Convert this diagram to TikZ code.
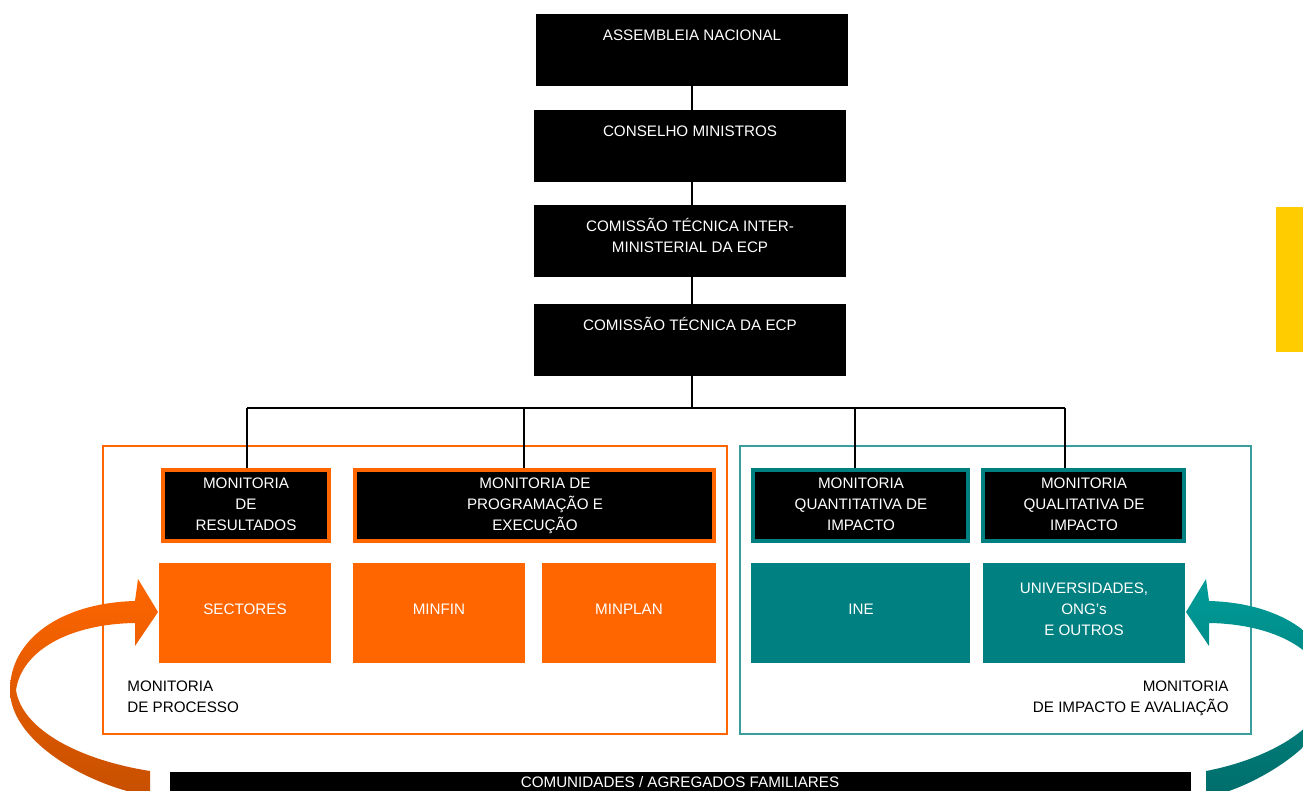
\documentclass[tikz,border=0pt]{standalone}
\usepackage{fontspec}
\setmainfont{Liberation Sans}
\usetikzlibrary{fit}
\definecolor{orng}{HTML}{FF6600}
\definecolor{dorng}{HTML}{C85000}
\definecolor{tl}{HTML}{008080}
\definecolor{ltl}{HTML}{009C98}
\definecolor{dtl}{HTML}{006E6C}
\definecolor{frtl}{HTML}{3A9E9E}
\definecolor{yllw}{HTML}{FFCC00}
\begin{document}
\begin{tikzpicture}[x=0.5pt, y=-0.5pt,
    every node/.style={font=\fontsize{7.6}{10.5}\selectfont},
    blk/.style={fill=black, inner sep=0pt},
    wtxt/.style={text=white, align=center, inner sep=0pt, text height=5.45pt, text depth=0pt},
    btxt/.style={text=black, inner sep=0pt, text height=5.45pt, text depth=0pt},
    orbox/.style={fill=black, draw=orng, line width=2pt, inner sep=0pt},
    tlbox/.style={fill=black, draw=tl, line width=2pt, inner sep=0pt},
    orfill/.style={fill=orng, inner sep=0pt},
    tlfill/.style={fill=tl, inner sep=0pt},
    link/.style={line width=1pt}]
    \useasboundingbox (0,0) rectangle (1303,791);

    % Hierarchy (text nodes sit on their last line)
    \node[blk, fit={(536,14) (848,86)}] (an) {};
    \node[wtxt] (an-t) at (692,35) {ASSEMBLEIA NACIONAL};
    \node[blk, fit={(534,110) (846,182)}] (cm) {};
    \node[wtxt] (cm-t) at (690,131) {CONSELHO MINISTROS};
    \node[blk, fit={(534,205) (846,277)}] (cti) {};
    \node[wtxt] (cti-t) at (690,247) {COMISSÃO TÉCNICA INTER-\\MINISTERIAL DA ECP};
    \node[blk, fit={(534,304) (846,376)}] (ct) {};
    \node[wtxt] (ct-t) at (690,325) {COMISSÃO TÉCNICA DA ECP};

    \draw[link] (an.south -| 692,0) -- (cm.north -| 692,0);
    \draw[link] (cm.south -| 692,0) -- (cti.north -| 692,0);
    \draw[link] (cti.south -| 692,0) -- (ct.north -| 692,0);

    % Frames
    \node[draw=orng, line width=0.6pt, inner sep=0pt, fit={(103,446) (727,734)}] (proc) {};
    \node[draw=frtl, line width=0.6pt, inner sep=0pt, fit={(740,446) (1251,734)}] (imp) {};

    % Monitoria
    \node[orbox, fit={(163,470) (329,541)}] (mr) {};
    \node[wtxt] (mr-t) at (246,525) {MONITORIA\\DE\\RESULTADOS};
    \node[orbox, fit={(355,470) (714,541)}] (mp) {};
    \node[wtxt] (mp-t) at (535,525) {MONITORIA DE\\PROGRAMAÇÃO E\\EXECUÇÃO};
    \node[tlbox, fit={(753,470) (968,541)}] (mq) {};
    \node[wtxt] (mq-t) at (861,525) {MONITORIA\\QUANTITATIVA DE\\IMPACTO};
    \node[tlbox, fit={(983,470) (1184,541)}] (ml) {};
    \node[wtxt] (ml-t) at (1084,525) {MONITORIA\\QUALITATIVA DE\\IMPACTO};

    % Bus
    \coordinate (bus) at (692,408);
    \coordinate (b1) at (247,408);
    \coordinate (b2) at (524,408);
    \coordinate (b3) at (855,408);
    \coordinate (b4) at (1065,408);
    \draw[link] (ct.south -| bus) -- (bus);
    \draw[link] (b1) -- (b4);
    \foreach \c/\n in {b1/mr, b2/mp, b3/mq, b4/ml}
        \draw[link] (\c) -- (\c |- \n.north);

    % Actors
    \node[orfill, fit={(159,563) (331,663)}] (sec) {};
    \node[wtxt] (sec-t) at (245,609) {SECTORES};
    \node[orfill, fit={(353,563) (525,663)}] (fin) {};
    \node[wtxt] (fin-t) at (439,609) {MINFIN};
    \node[orfill, fit={(542,563) (716,663)}] (plan) {};
    \node[wtxt] (plan-t) at (629,609) {MINPLAN};
    \node[tlfill, fit={(751,563) (970,663)}] (ine) {};
    \node[wtxt] (ine-t) at (861,609) {INE};
    \node[tlfill, fit={(983,563) (1185,663)}] (uni) {};
    \node[wtxt] (uni-t) at (1084,630) {UNIVERSIDADES,\\ONG's\\E OUTROS};

    \node[btxt, align=left, anchor=west] (proc-t) at (127,707) {MONITORIA\\DE PROCESSO};
    \node[btxt, align=right, anchor=east] (imp-t) at (1229,707) {MONITORIA\\DE IMPACTO E AVALIAÇÃO};

    % Base
    \node[blk, fit={(170,772) (1191,791)}] (com) {};
    \node[wtxt] (com-t) at (680,782) {COMUNIDADES / AGREGADOS FAMILIARES};

    \fill[yllw] (1276,207) rectangle (1303,352);

    % Loops
    \shade[top color=orng, bottom color=dorng] (135,601) .. controls (60,603) and (10,640) .. (10,690)
        .. controls (10,735) and (70,775) .. (127,791) -- (150,791) -- (150,771)
        .. controls (80,760) and (22,730) .. (16,690) .. controls (22,650) and (70,624) .. (135,623)
        -- (135,646) -- (158,612) -- (138,579) -- cycle;
    \begin{scope}
        \clip (0,0) rectangle (1303,791);
        \shade[top color=ltl, bottom color=dtl, shift={(1344,0)}, xscale=-1] (135,601) .. controls (60,603) and (10,640) .. (10,690)
            .. controls (10,735) and (70,775) .. (115,791) -- (138,791) -- (138,771)
            .. controls (80,760) and (22,730) .. (16,690) .. controls (22,650) and (70,624) .. (135,623)
            -- (135,646) -- (158,612) -- (138,579) -- cycle;
    \end{scope}
\end{tikzpicture}
\end{document}
